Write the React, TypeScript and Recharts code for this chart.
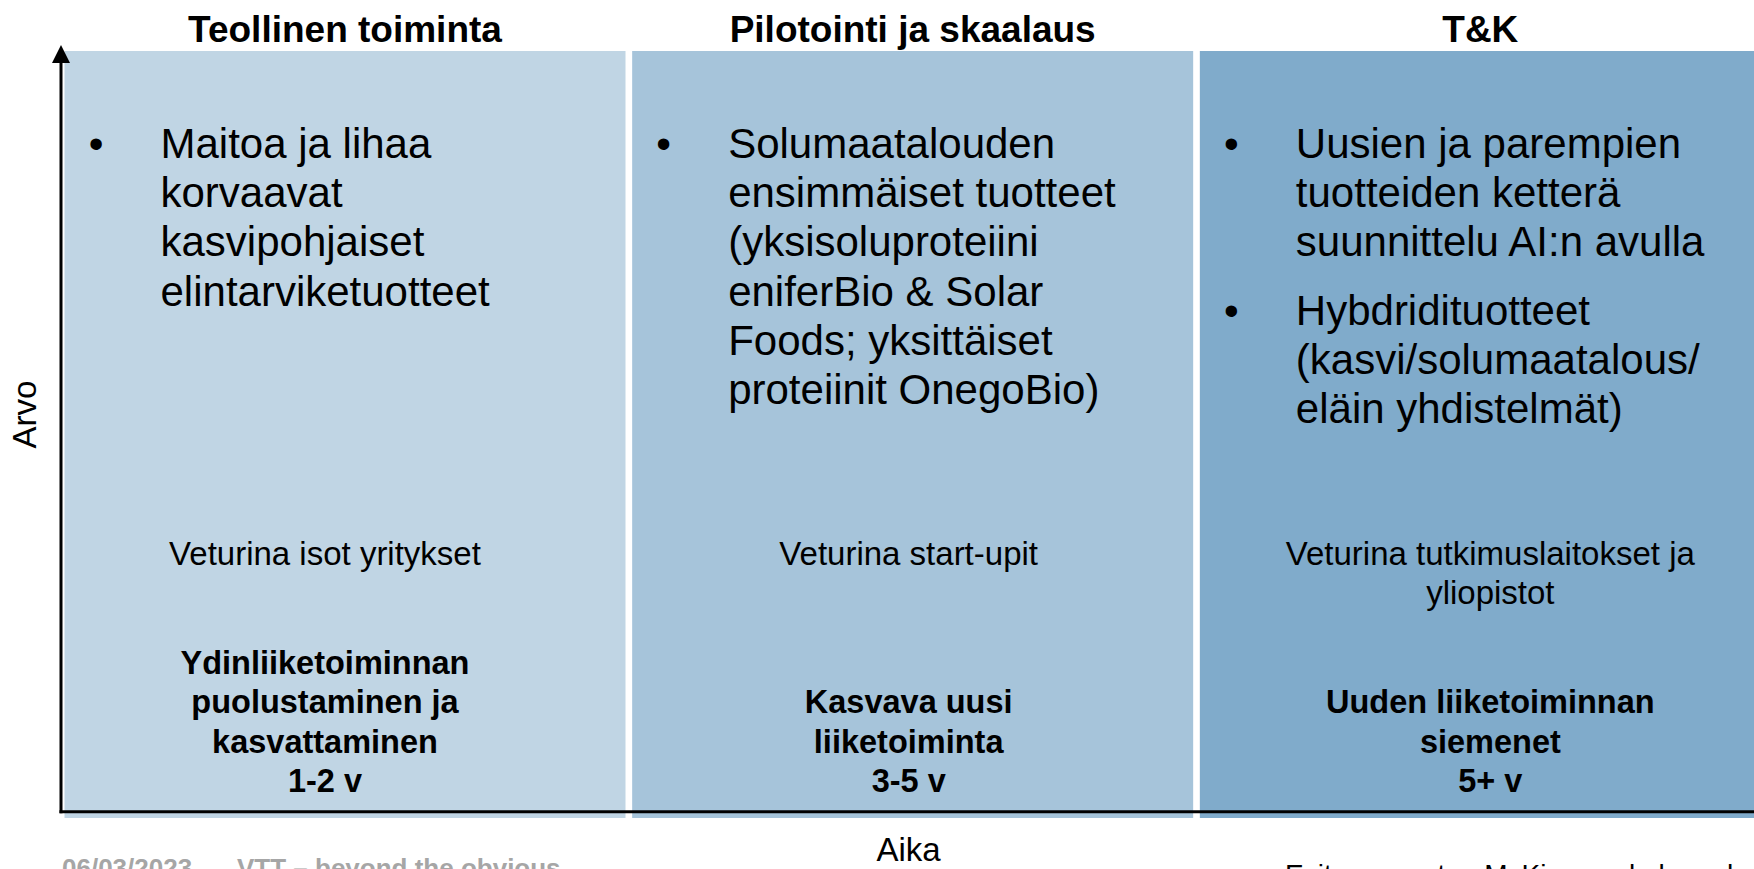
import { BarChart, Bar, XAxis, YAxis, Cell, ReferenceLine } from 'recharts';

// three horizons: industrial -> piloting -> R&D
const phases = ['Teollinen toiminta', 'Pilotointi ja skaalaus', 'T&K'];
const phaseColors = ['#C0D5E4', '#A6C4DA', '#80ABCB'];
const phaseSpan = [100, 100, 100];

const bulletLines = [
  [['Maitoa ja lihaa', 'korvaavat', 'kasvipohjaiset', 'elintarviketuotteet']],
  [['Solumaatalouden', 'ensimmäiset tuotteet', '(yksisoluproteiini', 'eniferBio & Solar', 'Foods; yksittäiset', 'proteiinit OnegoBio)']],
  [
    ['Uusien ja parempien', 'tuotteiden ketterä', 'suunnittelu AI:n avulla'],
    ['Hybdridituotteet', '(kasvi/solumaatalous/', 'eläin yhdistelmät)'],
  ],
];

const driverLines = [
  ['Veturina isot yritykset'],
  ['Veturina start-upit'],
  ['Veturina tutkimuslaitokset ja', 'yliopistot'],
];

const horizonLines = [
  ['Ydinliiketoiminnan', 'puolustaminen ja', 'kasvattaminen', '1-2 v'],
  ['Kasvava uusi', 'liiketoiminta', '3-5 v'],
  ['Uuden liiketoiminnan', 'siemenet', '5+ v'],
];

const axisLevel = 0.8;
const yAxisTitle = 'Arvo';
const xAxisTitle = 'Aika';
const footerDate = '06/03/2023';
const footerTagline = 'VTT – beyond the obvious';
const footerSource = 'Esitys perustuu McKinseyn kolmen horisontin malliin';

const FONT = '"Liberation Sans", Arial, sans-serif';
// the lower text blocks sit a bit off the box centres in the slide
const TEXT_SHIFT = [-20, -4, 10];

const chartData = phases.map((name, i) => ({
  name,
  span: phaseSpan[i],
  bullets: bulletLines[i],
  driver: driverLines[i],
  horizon: horizonLines[i],
}));

function PhaseBox(props: any) {
  const { x, y, width, height, fill, payload, index } = props;
  const cx = x + width / 2;
  const tx = cx + (TEXT_SHIFT[index] || 0);
  const bottom = y + height;

  const nodes: any[] = [];
  let lineY = y + 107;
  payload.bullets.forEach((para: string[], pi: number) => {
    if (pi > 0) lineY += 19;
    nodes.push(
      <text key={`dot-${pi}`} x={x + 31.5} y={lineY} fontSize={42} textAnchor="middle" fill="#000">•</text>
    );
    para.forEach((line, li) => {
      nodes.push(
        <text key={`b-${pi}-${li}`} x={x + 96} y={lineY} fontSize={42} fill="#000">{line}</text>
      );
      lineY += 49.2;
    });
  });

  const n = payload.horizon.length;

  return (
    <g fontFamily={FONT}>
      <rect x={x} y={y} width={width} height={height} fill={fill} />
      <text x={cx} y={y - 9} fontSize={37} fontWeight="bold" textAnchor="middle" fill="#000">
        {payload.name}
      </text>
      {nodes}
      {payload.driver.map((line: string, i: number) => (
        <text key={`d-${i}`} x={tx} y={y + 514 + i * 39} fontSize={33} textAnchor="middle" fill="#000">
          {line}
        </text>
      ))}
      {payload.horizon.map((line: string, i: number) => (
        <text
          key={`h-${i}`}
          x={tx}
          y={bottom - 26 - (n - 1 - i) * 39.5}
          fontSize={32.5}
          fontWeight="bold"
          textAnchor="middle"
          fill="#000"
        >
          {line}
        </text>
      ))}
    </g>
  );
}

function ArrowAxis(props: any) {
  const { x1, y1, x2, y2 } = props;
  const top = Math.min(y1, y2);
  const base = Math.max(y1, y2);
  return (
    <g>
      <line x1={x1} y1={base} x2={x2} y2={top + 10} stroke="#000" strokeWidth={3} strokeLinecap="square" />
      <polygon points={`${x1},${top - 6} ${x1 - 9},${top + 12} ${x1 + 9},${top + 12}`} fill="#000" />
    </g>
  );
}

export default function App() {
  return (
    <div
      style={{
        position: 'absolute',
        left: 0,
        top: 0,
        width: 1754,
        height: 869,
        overflow: 'hidden',
        background: '#fff',
        fontFamily: FONT,
      }}
    >
      <BarChart
        width={1764}
        height={869}
        data={chartData}
        margin={{ top: 51, right: 0, bottom: 0, left: 0 }}
        barCategoryGap={3.5}
      >
        <XAxis
          dataKey="name"
          height={51}
          tick={false}
          tickLine={false}
          axisLine={false}
          label={{ value: xAxisTitle, position: 'insideBottom', offset: 8, fontSize: 33, fill: '#000', fontFamily: FONT, dx: -4 }}
        />
        <YAxis
          width={61}
          domain={[0, 100]}
          tick={false}
          tickLine={false}
          axisLine={false}
          label={{ value: yAxisTitle, position: 'center', angle: -90, fontSize: 33, fill: '#000', fontFamily: FONT, dx: -6, dy: -20 }}
        />
        <Bar dataKey="span" shape={PhaseBox} isAnimationActive={false}>
          {phaseColors.map((c, i) => (
            <Cell key={i} fill={c} />
          ))}
        </Bar>
        <ReferenceLine y={axisLevel} stroke="#000" strokeWidth={3} strokeLinecap="square" ifOverflow="visible" />
        <ReferenceLine
          segment={[
            { x: phases[0], y: axisLevel },
            { x: phases[0], y: 100 },
          ]}
          position="start"
          ifOverflow="visible"
          shape={ArrowAxis}
        />
      </BarChart>
      <svg
        width={1754}
        height={869}
        style={{ position: 'absolute', left: 0, top: 0, pointerEvents: 'none' }}
        fontFamily={FONT}
      >
        <text x={62} y={877} fontSize={26} fontWeight="bold" fill="#A6A6A6">{footerDate}</text>
        <text x={237} y={877} fontSize={26} fontWeight="bold" fill="#A6A6A6">{footerTagline}</text>
        <text x={1285} y={884} fontSize={28} fill="#000">{footerSource}</text>
      </svg>
    </div>
  );
}
